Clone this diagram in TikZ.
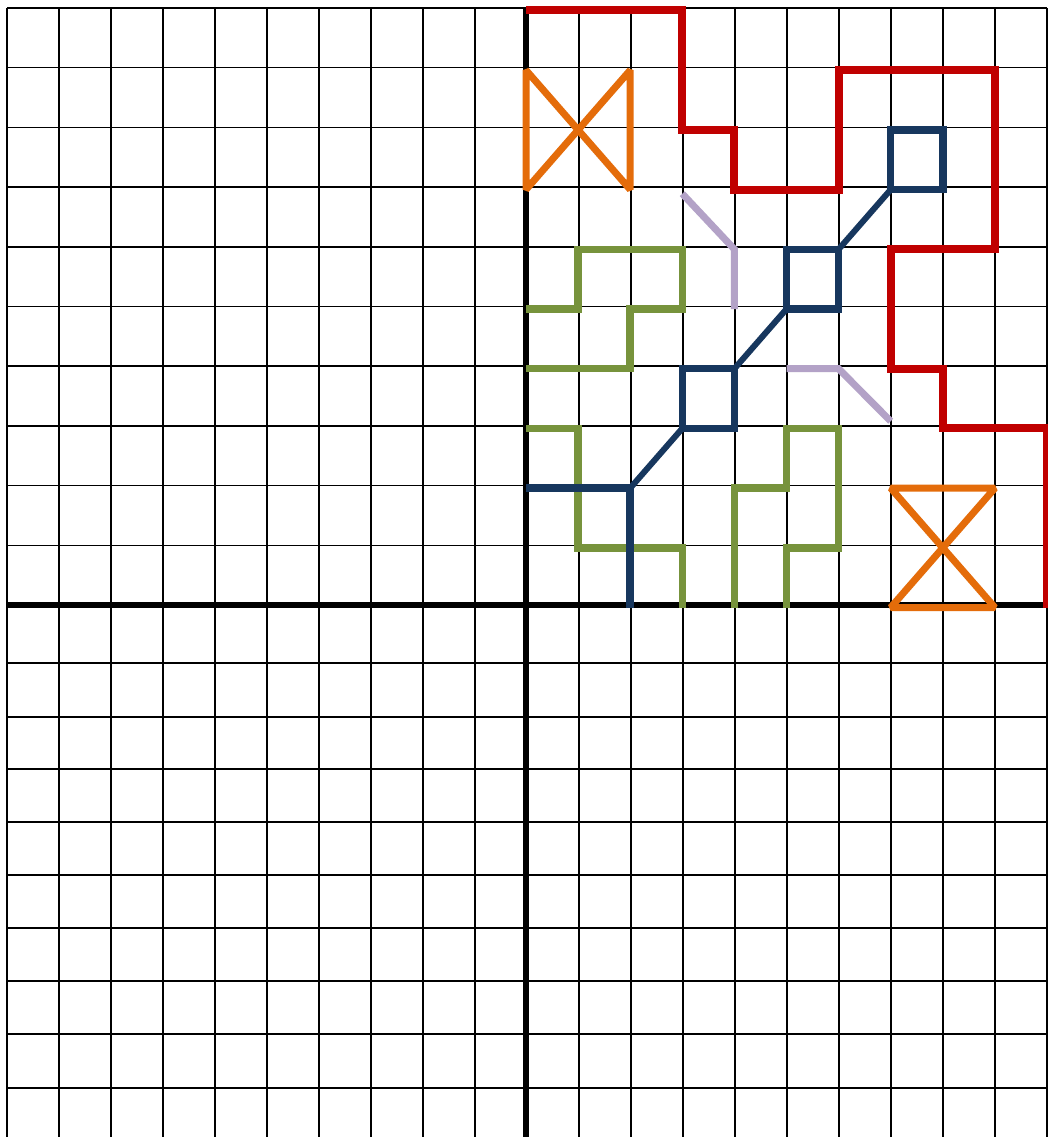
\documentclass[tikz,border=0pt]{standalone}
\definecolor{cred}{HTML}{C00000}
\definecolor{corange}{HTML}{E46C0A}
\definecolor{cgreen}{HTML}{77933C}
\definecolor{cnavy}{HTML}{17375E}
\definecolor{clav}{HTML}{B3A2C7}
\tikzset{
  gridline/.style={black, line width=1.6pt},
  axisline/.style={black, line width=5.5pt},
  shapeline/.style={line width=7.5pt, line join=miter},
  redline/.style={shapeline, cred, line width=8pt},
  orangeline/.style={shapeline, corange, line width=7pt, line join=bevel},
  greenline/.style={shapeline, cgreen},
  navyline/.style={shapeline, cnavy},
  lavline/.style={shapeline, clav, line width=7pt},
}
\begin{document}
\begin{tikzpicture}[x=1pt, y=-1pt]
\useasboundingbox (0,0) rectangle (1048,1137);
\fill[white] (0,0) rectangle (1048,1137);
\begin{scope}
\clip (0,0) rectangle (1048,1137);
% vertical grid lines
\foreach \i in {0,...,20} {
  \draw[gridline] ({7+52*\i},8) -- ({7+52*\i},1140);
}
% horizontal grid lines, upper half
\foreach \j in {0,...,9} {
  \draw[gridline] (7,{8+59.7*\j}) -- (1047,{8+59.7*\j});
}
% horizontal grid lines, lower half
\foreach \yy in {663,717,769,822,875,928,981,1034,1088} {
  \draw[gridline] (7,\yy) -- (1047,\yy);
}
% axes
\draw[axisline] (526,8) -- (526,1140);
\draw[axisline] (7,605) -- (1047,605);
\end{scope}
% coloured shapes in grid units
\begin{scope}[shift={(526,605)}, x=52.1pt, y=59.7pt, yshift=-2.5pt]
  % red
  \draw[redline] (0,10) -- (3,10) -- (3,8) -- (4,8) -- (4,7) -- (6,7) -- (6,9) -- (9,9)
     -- (9,6) -- (7,6) -- (7,4) -- (8,4) -- (8,3) -- (10,3) -- (10,0);
  % orange bowties
  \draw[orangeline] (0,9) -- (1,8) -- (2,9) -- (2,7) -- (1,8) -- (0,7) -- cycle;
  \draw[orangeline] (7,2) -- (9,2) -- (8,1) -- (9,0) -- (7,0) -- (8,1) -- cycle;
  % green
  \draw[greenline] (0,5) -- (1,5) -- (1,6) -- (3,6) -- (3,5) -- (2,5) -- (2,4) -- (0,4);
  \draw[greenline] (0,3) -- (1,3) -- (1,1) -- (3,1) -- (3,0);
  \draw[greenline] (4,0) -- (4,2) -- (5,2) -- (5,3) -- (6,3) -- (6,1) -- (5,1) -- (5,0);
  % navy
  \draw[navyline] (3,3) rectangle (4,4);
  \draw[navyline] (5,5) rectangle (6,6);
  \draw[navyline] (7,7) rectangle (8,8);
  \draw[navyline, line width=6pt] (2,2) -- (3,3);
  \draw[navyline, line width=6pt] (4,4) -- (5,5);
  \draw[navyline, line width=6pt] (6,6) -- (7,7);
  \draw[navyline] (0,2) -- (2,2) -- (2,0);
  % lavender
  \draw[lavline] (3,6.93) -- (4,6) -- (4,5);
  \draw[lavline] (5,4) -- (6,4) -- (7,3.12);
\end{scope}
\end{tikzpicture}
\end{document}
